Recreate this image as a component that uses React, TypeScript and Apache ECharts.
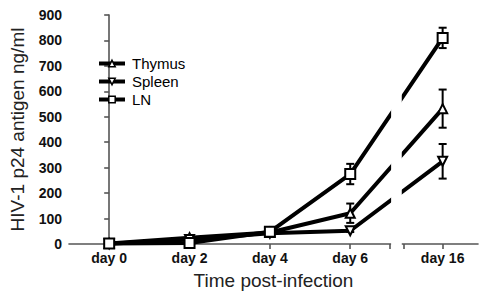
import React, { useEffect, useRef } from 'react';
import * as echarts from 'echarts';

// ---- data ----
const categories = ['day 0', 'day 2', 'day 4', 'day 6', 'day 16'];
const thymus = [2, 25, 45, 121, 532];
const spleen = [1, 18, 42, 52, 325];
const ln = [2, 4, 48, 275, 810];
const thymusErr = [2, 6, 5, 38, 75];
const spleenErr = [1, 4, 4, 5, 68];
const lnErr = [2, 4, 6, 40, 40];

// ---- broken x-axis layout (slot positions of the categories) ----
const xSlots = [0, 1, 2, 3, 4.15];
const breakStart = 3.49;
const breakEnd = 3.66;
const xMin = -0.5;
const xMax = 4.59;

const FONT = "'Liberation Sans', Arial, sans-serif";

function pts(vals: number[]) {
  return vals.map((v, i) => [xSlots[i], v]);
}
function errs(vals: number[], e: number[]) {
  return vals.map((v, i) => [xSlots[i], v - e[i], v + e[i]]);
}

const errorRender = (params: any, api: any) => {
  const x = api.value(0);
  const top = api.coord([x, api.value(2)]);
  const bot = api.coord([x, api.value(1)]);
  const hw = 4;
  const st = { stroke: '#000', lineWidth: 2 };
  return {
    type: 'group',
    children: [
      { type: 'line', shape: { x1: top[0], y1: top[1], x2: bot[0], y2: bot[1] }, style: st },
      { type: 'line', shape: { x1: top[0] - hw, y1: top[1], x2: top[0] + hw, y2: top[1] }, style: st },
      { type: 'line', shape: { x1: bot[0] - hw, y1: bot[1], x2: bot[0] + hw, y2: bot[1] }, style: st },
    ],
  };
};

export default function App() {
  const ref = useRef<HTMLDivElement>(null);
  useEffect(() => {
    if (!ref.current) return;
    const chart = echarts.init(ref.current, null, { renderer: 'svg' });
    const lineSeries = (name: string, data: number[], symbol: string, size: number, rotate = 0) => ({
      type: 'line',
      name,
      data: pts(data),
      symbol,
      symbolSize: size,
      symbolRotate: rotate,
      showAllSymbol: true,
      lineStyle: { color: '#000', width: 4 },
      itemStyle: { color: '#fff', borderColor: '#000', borderWidth: 2 },
      z: 3,
    });
    const errSeries = (vals: number[], e: number[]) => ({
      type: 'custom',
      renderItem: errorRender,
      data: errs(vals, e),
      z: 2,
      silent: true,
    });
    chart.setOption({
      animation: false,
      textStyle: { fontFamily: FONT },
      grid: { left: 66, right: 16, top: 15, bottom: 56 },
      legend: {
        orient: 'vertical',
        left: 97,
        top: 56,
        padding: 0,
        itemWidth: 26,
        itemHeight: 8,
        itemGap: 3,
        lineStyle: { width: 4, color: '#000' },
        itemStyle: { color: '#fff', borderColor: '#000', borderWidth: 1.5 },
        textStyle: { fontFamily: FONT, fontSize: 15, color: '#000', padding: [0, 0, 0, 2] },
        data: ['Thymus', 'Spleen', 'LN'],
      },
      xAxis: {
        type: 'value',
        min: xMin,
        max: xMax,
        splitLine: { show: false },
        axisLine: { lineStyle: { color: '#555', width: 1.6 } },
        axisTick: {
          length: 5,
          lineStyle: { color: '#555', width: 1.6 },
          customValues: [...xSlots, breakStart, breakEnd],
        },
        axisLabel: {
          customValues: xSlots,
          formatter: (v: number) => {
            const i = xSlots.findIndex((s) => Math.abs(s - v) < 1e-6);
            return i >= 0 ? categories[i] : '';
          },
          fontFamily: FONT,
          fontWeight: 'bold',
          fontSize: 14,
          color: '#111',
          margin: 7,
        },
        name: 'Time post-infection',
        nameLocation: 'middle',
        nameGap: 27,
        nameTextStyle: { fontFamily: FONT, fontSize: 19, color: '#222' },
      },
      yAxis: {
        type: 'value',
        min: 0,
        max: 900,
        interval: 100,
        splitLine: { show: false },
        axisLine: { show: true, lineStyle: { color: '#555', width: 1.6 } },
        axisTick: { show: true, length: 5, lineStyle: { color: '#555', width: 1.6 } },
        axisLabel: {
          fontFamily: FONT,
          fontWeight: 'bold',
          fontSize: 14,
          color: '#111',
          margin: 7,
        },
        name: 'HIV-1 p24 antigen ng/ml',
        nameLocation: 'middle',
        nameGap: 42,
        nameTextStyle: { fontFamily: FONT, fontSize: 19, color: '#222' },
      },
      series: [
        errSeries(thymus, thymusErr),
        errSeries(spleen, spleenErr),
        errSeries(ln, lnErr),
        lineSeries('Thymus', thymus, 'triangle', 9),
        lineSeries('Spleen', spleen, 'triangle', 9, 180),
        lineSeries('LN', ln, 'rect', 10),
      ],
    });
    const x0 = chart.convertToPixel({ xAxisIndex: 0 } as any, breakStart) as number;
    const x1 = chart.convertToPixel({ xAxisIndex: 0 } as any, breakEnd) as number;
    chart.setOption({
      graphic: [
        {
          type: 'rect',
          shape: { x: x0 + 1.5, y: 0, width: x1 - x0 - 3, height: 245.5 },
          style: { fill: '#fff' },
          z: 100,
          silent: true,
        },
      ],
    });
    return () => chart.dispose();
  }, []);
  return <div ref={ref} style={{ width: 494, height: 300, position: 'absolute', left: 0, top: 0 }} />;
}
